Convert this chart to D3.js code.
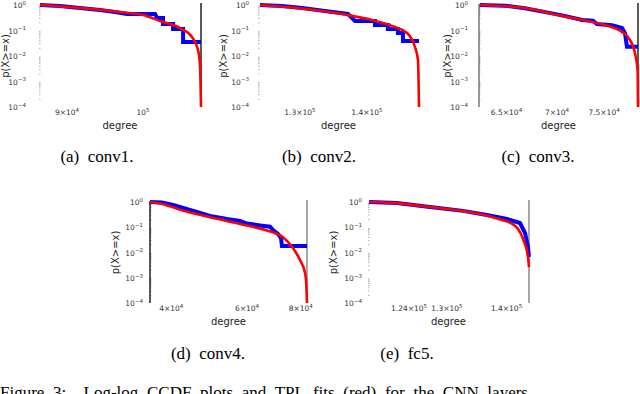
<!DOCTYPE html>
<html>
<head>
<meta charset="utf-8">
<script src="https://cdn.jsdelivr.net/npm/d3@7"></script>
<style>
  body { margin: 0; background: #fff; }
  svg { display: block; }
</style>
</head>
<body>
<script>
// shared y axis: CCDF p(X>=x), log scale
var yDomain = [1e-4, 1];
var yTicks = [1, 1e-1, 1e-2, 1e-3, 1e-4];

// conv1
var conv1X = [86570, 108370];
var conv1Ticks = [90000, 100000];
var conv1Ccdf = [[86690, 1.0], [89120, 0.914], [91630, 0.763], [94210, 0.637], [96190, 0.531],
  [97800, 0.444], [101680, 0.444], [101960, 0.309], [102810, 0.309], [102810, 0.180], [104250, 0.180],
  [104250, 0.114], [105710, 0.114], [105710, 0.0355], [108370, 0.0355]];
var conv1Fit = [[86690, 1.0], [91630, 0.763], [96850, 0.531], [100000, 0.405], [102390, 0.236],
  [105270, 0.125], [107020, 0.0556], [107930, 0.0172], [108230, 0.0037], [108370, 0.0001]];

// conv2
var conv2X = [124100, 148290];
var conv2Ticks = [130000, 140000];
var conv2Ccdf = [[124370, 1.0], [127440, 0.914], [130300, 0.763], [133640, 0.581], [137090, 0.444],
  [138160, 0.236], [141240, 0.236], [141240, 0.164], [143270, 0.164], [143270, 0.114], [144870, 0.114],
  [144870, 0.080], [145680, 0.080], [145680, 0.0388], [148290, 0.0388]];
var conv2Fit = [[124370, 1.0], [132180, 0.637], [137090, 0.405], [140770, 0.258], [144390, 0.137],
  [146340, 0.080], [147630, 0.0225], [148120, 0.0070], [148290, 0.0001]];

// conv3
var conv3X = [62430, 78830];
var conv3Ticks = [65000, 70000, 75000];
var conv3Ccdf = [[62500, 1.0], [64860, 0.94], [66790, 0.74], [69490, 0.47], [71130, 0.35], [72610, 0.258],
  [73790, 0.242], [74220, 0.180], [75880, 0.160], [77000, 0.125], [77340, 0.078], [77560, 0.023], [78830, 0.023]];
var conv3Fit = [[62500, 1.0], [66790, 0.763], [70100, 0.405], [72610, 0.258], [75100, 0.164],
  [77000, 0.0872], [77910, 0.0424], [78480, 0.0131], [78800, 0.00215], [78830, 0.0001]];

// conv4
var conv4X = [35690, 82740];
var conv4Ticks = [40000, 60000, 80000];
var conv4Ccdf = [[35690, 1.0], [38060, 0.955], [40370, 0.760], [44210, 0.482], [49220, 0.279], [53900, 0.212],
  [57800, 0.177], [60000, 0.14], [64340, 0.118], [67880, 0.105], [68960, 0.0776], [70830, 0.054],
  [71980, 0.0375], [72370, 0.0181], [82740, 0.0181]];
var conv4Fit = [[35690, 1.0], [38060, 0.84], [42590, 0.46], [51090, 0.215], [60000, 0.117], [66790, 0.074],
  [72750, 0.040], [76740, 0.0151], [79690, 0.00505], [81860, 0.00155], [82300, 0.00083], [82740, 0.0001]];

// fc5
var fc5X = [117830, 143970];
var fc5Ticks = [124000, 130000, 140000];
var fc5Ccdf = [[118000, 1.0], [122160, 0.913], [127280, 0.634], [132620, 0.445], [136630, 0.305],
  [140080, 0.212], [142360, 0.147], [143260, 0.0592], [143790, 0.0164], [143970, 0.0066]];
var fc5Fit = [[118000, 1.0], [122160, 0.90], [127280, 0.63], [132620, 0.435], [136630, 0.29],
  [138340, 0.22], [141130, 0.13], [142890, 0.035], [143790, 0.0066], [143970, 0.00266]];

var captions = ["(a)  conv1.", "(b)  conv2.", "(c)  conv3.", "(d)  conv4.", "(e)  fc5."];
var figureText = "Figure 3:  Log-log CCDF plots and TPL fits (red) for the CNN layers";

// layout of each panel (pixels)
var panels = [
  {xDomain: conv1X, xTicks: conv1Ticks, ccdf: conv1Ccdf, fit: conv1Fit,
   left: 39, right: 201, top: 5, bottom: 107, yTickX: 26, yLabX: 9, capX: 97, capY: 162,
   leftSpine: null, rightSpine: "#000"},
  {xDomain: conv2X, xTicks: conv2Ticks, ccdf: conv2Ccdf, fit: conv2Fit,
   left: 258, right: 419, top: 5, bottom: 107, yTickX: 249, yLabX: 227, capX: 319, capY: 162,
   leftSpine: null, rightSpine: null},
  {xDomain: conv3X, xTicks: conv3Ticks, ccdf: conv3Ccdf, fit: conv3Fit,
   left: 479, right: 638, top: 5, bottom: 107, yTickX: 468, yLabX: 451, capX: 538, capY: 162,
   leftSpine: "#666", rightSpine: "#000"},
  {xDomain: conv4X, xTicks: conv4Ticks, ccdf: conv4Ccdf, fit: conv4Fit,
   left: 150, right: 307, top: 202, bottom: 303, yTickX: 143, yLabX: 119, capX: 208, capY: 359,
   leftSpine: "#000", rightSpine: "#777"},
  {xDomain: fc5X, xTicks: fc5Ticks, ccdf: fc5Ccdf, fit: fc5Fit,
   left: 368, right: 529, top: 202, bottom: 303, yTickX: 362, yLabX: 337, capX: 407, capY: 359,
   leftSpine: null, rightSpine: "#777"}
];

var svg = d3.select("body").append("svg")
  .attr("width", 640)
  .attr("height", 394);

function sciLabel(sel, v) {
  var e = Math.floor(Math.log10(v) + 1e-9);
  var m = +(v / Math.pow(10, e)).toFixed(2);
  sel.append("tspan").text(m === 1 ? "10" : m + "\u00d710");
  sel.append("tspan").attr("dy", -3.2).attr("font-size", 5.5)
    .text(e < 0 ? "\u2212" + (-e) : e);
}

function drawPanel(p, i) {
  var x = d3.scaleLog().domain(p.xDomain).range([p.left, p.right]);
  var y = d3.scaleLog().domain(yDomain).range([p.bottom, p.top]);
  var g = svg.append("g");

  // minor ticks along the left edge
  var minors = [];
  for (var k = -4; k < 0; k++) {
    for (var m = 2; m < 10; m++) minors.push(m * Math.pow(10, k));
  }
  g.selectAll(".minor").data(minors).enter().append("line")
    .attr("x1", p.left).attr("x2", p.left + 1.5)
    .attr("y1", function(d) { return y(d); })
    .attr("y2", function(d) { return y(d); })
    .attr("stroke", "#999").attr("stroke-width", 0.8);

  if (p.leftSpine) {
    g.append("line").attr("x1", p.left).attr("x2", p.left)
      .attr("y1", p.top - 1).attr("y2", p.bottom)
      .attr("stroke", p.leftSpine).attr("stroke-width", 1.3);
  }
  if (p.rightSpine) {
    g.append("line").attr("x1", p.right).attr("x2", p.right)
      .attr("y1", p.top - 2).attr("y2", p.bottom)
      .attr("stroke", p.rightSpine).attr("stroke-width", 1.3);
  }

  // y tick labels
  g.selectAll(".ytick").data(yTicks).enter().append("text")
    .attr("x", p.yTickX)
    .attr("y", function(d) { return y(d) + 3; })
    .attr("text-anchor", "end")
    .attr("font-family", "DejaVu Sans")
    .attr("font-size", 7.5)
    .attr("fill", "#333")
    .each(function(d) { sciLabel(d3.select(this), d); });

  // x tick labels
  g.selectAll(".xtick").data(p.xTicks).enter().append("text")
    .attr("x", function(d) { return x(d); })
    .attr("y", p.bottom + 8)
    .attr("text-anchor", "middle")
    .attr("font-family", "DejaVu Sans")
    .attr("font-size", 7.5)
    .attr("fill", "#333")
    .each(function(d) { sciLabel(d3.select(this), d); });

  g.append("text")
    .attr("x", (p.left + p.right) / 2)
    .attr("y", p.bottom + 22)
    .attr("text-anchor", "middle")
    .attr("font-family", "DejaVu Sans")
    .attr("font-size", 10)
    .attr("fill", "#222")
    .text("degree");

  g.append("text")
    .attr("transform", "translate(" + p.yLabX + "," + (p.top + p.bottom) / 2 + ") rotate(-90)")
    .attr("text-anchor", "middle")
    .attr("font-family", "DejaVu Sans")
    .attr("font-size", 10)
    .attr("fill", "#222")
    .text("p(X>=x)");

  var line = d3.line()
    .x(function(d) { return x(d[0]); })
    .y(function(d) { return y(d[1]); });

  g.append("path")
    .datum(p.ccdf)
    .attr("d", line.curve(d3.curveLinear))
    .attr("fill", "none")
    .attr("stroke", "#0000ff")
    .attr("stroke-width", 4);

  g.append("path")
    .datum(p.fit)
    .attr("d", line.curve(d3.curveMonotoneX))
    .attr("fill", "none")
    .attr("stroke", "#ff0000")
    .attr("stroke-width", 2.6);

  svg.append("text")
    .attr("x", p.capX)
    .attr("y", p.capY)
    .attr("text-anchor", "middle")
    .attr("font-family", "Liberation Serif")
    .attr("font-size", 17)
    .style("white-space", "pre")
    .text(captions[i]);
}

panels.forEach(drawPanel);

svg.append("text")
  .attr("x", 0)
  .attr("y", 398)
  .attr("font-family", "Liberation Serif")
  .attr("font-size", 17)
  .attr("word-spacing", 4.4)
  .style("white-space", "pre")
  .text(figureText);
</script>
</body>
</html>
